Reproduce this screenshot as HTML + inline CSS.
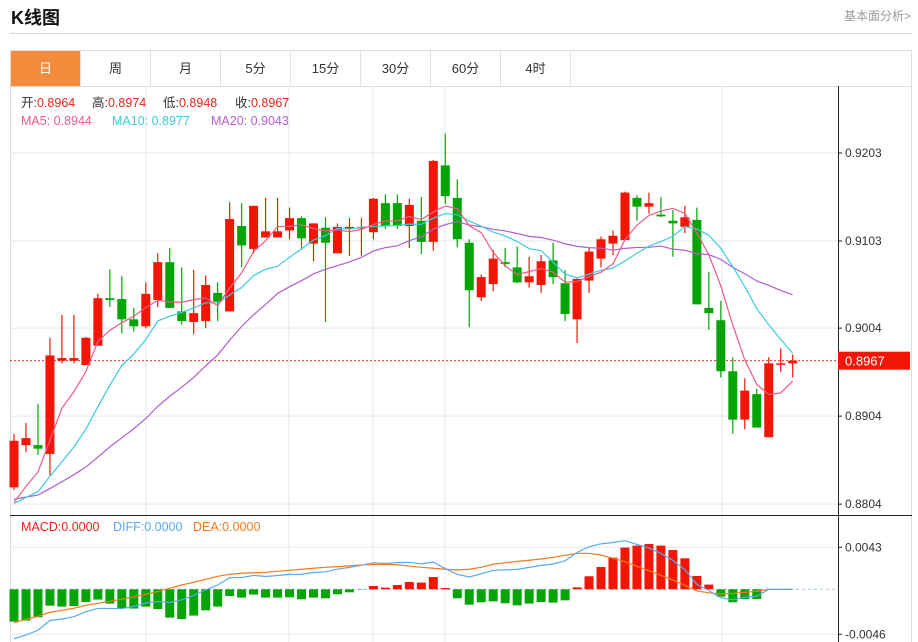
<!DOCTYPE html>
<html><head><meta charset="utf-8"><style>
body{margin:0;width:918px;height:642px;overflow:hidden;background:#fff;font-family:"Liberation Sans","Noto Sans CJK SC",sans-serif;position:relative}
.title{position:absolute;left:11px;top:4px;font-size:18px;font-weight:bold;color:#111}
.more{position:absolute;right:7px;top:7px;font-size:12px;color:#999}
.hr{position:absolute;left:10px;top:33px;width:902px;height:1px;background:#d4d4d4}
.tabs{position:absolute;left:10px;top:50px;width:900px;height:35px;border:1px solid #ddd;display:flex}
.tab{width:69px;border-right:1px solid #e2e2e2;font-size:13px;color:#333;text-align:center;line-height:35px}
.tab.on{background:#f28c3c;color:#fff}
svg{position:absolute;left:0;top:0}
</style></head><body>
<div class="title">K线图</div>
<div class="more">基本面分析&gt;</div>
<div class="hr"></div>
<div class="tabs">
<div class="tab on">日</div>
<div class="tab">周</div>
<div class="tab">月</div>
<div class="tab">5分</div>
<div class="tab">15分</div>
<div class="tab">30分</div>
<div class="tab">60分</div>
<div class="tab">4时</div>
</div>
<svg id="c" width="918" height="642"></svg>
<script>
const opens=[0.8823,0.8871,0.8871,0.8861,0.8967,0.8967,0.8962,0.8984,0.9038,0.9037,0.9014,0.9006,0.9036,0.9079,0.9023,0.9011,0.9012,0.9044,0.9023,0.9120,0.9094,0.9107,0.9107,0.9115,0.9129,0.9100,0.9118,0.9089,0.9118,0.9118,0.9113,0.9146,0.9146,0.9120,0.9126,0.9102,0.9189,0.9152,0.9101,0.9039,0.9054,0.9079,0.9073,0.9056,0.9053,0.9081,0.9055,0.9014,0.9058,0.9083,0.9100,0.9104,0.9152,0.9142,0.9133,0.9126,0.9119,0.9127,0.9027,0.9013,0.8955,0.8900,0.8929,0.8880,0.8963,0.8964];
const highs=[0.8884,0.8896,0.8918,0.8993,0.9019,0.9019,0.8994,0.9043,0.9071,0.9063,0.9027,0.9056,0.9089,0.9095,0.9073,0.9070,0.9064,0.9056,0.9147,0.9146,0.9143,0.9152,0.9152,0.9141,0.9131,0.9123,0.9130,0.9123,0.9129,0.9129,0.9152,0.9156,0.9156,0.9151,0.9153,0.9195,0.9225,0.9173,0.9105,0.9065,0.9093,0.9095,0.9097,0.9085,0.9087,0.9101,0.9070,0.9060,0.9096,0.9108,0.9115,0.9159,0.9155,0.9158,0.9153,0.9138,0.9143,0.9141,0.9068,0.9035,0.8971,0.8947,0.8935,0.8971,0.8981,0.8974];
const lows=[0.8820,0.8863,0.8860,0.8837,0.8964,0.8964,0.8962,0.8984,0.9028,0.8998,0.9000,0.9004,0.9028,0.9027,0.9008,0.8997,0.9004,0.9012,0.9023,0.9073,0.9089,0.9107,0.9107,0.9105,0.9093,0.9080,0.9011,0.9089,0.9086,0.9086,0.9105,0.9117,0.9117,0.9095,0.9088,0.9092,0.9145,0.9096,0.9005,0.9035,0.9046,0.9073,0.9055,0.9050,0.9044,0.9054,0.9012,0.8987,0.9044,0.9073,0.9087,0.9104,0.9126,0.9134,0.9130,0.9085,0.9112,0.9031,0.9002,0.8948,0.8884,0.8889,0.8891,0.8880,0.8954,0.8948];
const closes=[0.8876,0.8879,0.8867,0.8973,0.8970,0.8970,0.8993,0.9038,0.9036,0.9014,0.9006,0.9043,0.9079,0.9027,0.9012,0.9021,0.9053,0.9034,0.9128,0.9098,0.9143,0.9114,0.9114,0.9129,0.9106,0.9123,0.9101,0.9119,0.9119,0.9119,0.9151,0.9120,0.9120,0.9144,0.9102,0.9194,0.9154,0.9105,0.9047,0.9062,0.9083,0.9077,0.9056,0.9063,0.9080,0.9062,0.9020,0.9060,0.9091,0.9105,0.9109,0.9158,0.9142,0.9146,0.9131,0.9123,0.9130,0.9031,0.9021,0.8955,0.8900,0.8933,0.8891,0.8964,0.8964,0.8967];
const prevCloses=[0.8830,0.8820,0.8825,0.8815,0.8810,0.8818,0.8812,0.8805,0.8808,0.8800,0.8810,0.8802,0.8798,0.8806,0.8800,0.8790,0.8785,0.8792,0.8788];
const priceTicks=[0.9203,0.9103,0.9004,0.8904,0.8804];
const macdHist=[-33,-32,-28.6,-16.7,-17.7,-17.1,-13,-10.5,-14.6,-19.1,-19.7,-17.7,-20.2,-29,-30.4,-26.9,-21.5,-17.7,-6.9,-8.5,-5.4,-8.5,-8.5,-8.2,-10.2,-8.5,-9.2,-5.1,-3.1,-0.3,3.4,1.7,4.4,7.5,6.9,12.6,1.3,-9.2,-15.7,-13.3,-12.3,-14.3,-16.4,-14.6,-13,-13.6,-11.3,2,13.3,22.8,32.4,42.7,44.7,46.3,44.7,40.2,31.7,13.6,4.8,-7.5,-13.3,-9.9,-9.9,0,0,0];
const deaVals=[-34.2,-30.7,-27.6,-23.5,-21.5,-19.4,-16.4,-14.3,-12.3,-10.2,-7.7,-5.1,-2.4,1,4.4,7.2,10.2,13.3,15.3,16.4,16.9,17.4,18.4,19.4,20.5,21.5,22.5,23.2,24,24.9,25.3,25.6,25.1,23.8,22.5,21.5,20.5,19.9,20.5,22.5,25.6,27.1,28.6,29.7,31,32.7,34.8,36.8,36.8,35.1,31.7,28.3,23.5,19.1,14.3,9.5,4.1,-1.7,-3.6,-4.8,-4.1,-3.1,-2,0,0,0];
const diffVals=[-50.7,-46.7,-41.9,-31.9,-30.4,-28,-22.9,-19.6,-19.6,-19.8,-17.6,-14,-12.5,-13.5,-10.8,-6.3,-0.6,4.4,11.8,12.1,14.2,13.1,14.1,15.3,15.4,17.2,17.9,20.6,22.4,24.7,27,26.5,27.3,27.6,26,27.8,21.2,15.3,12.6,15.8,19.4,19.9,20.4,22.4,24.5,25.9,29.1,37.8,43.5,46.5,47.9,49.7,45.9,42.3,36.7,29.6,20,5.1,-1.2,-8.6,-10.8,-8.1,-7,0,0,0];
const macdTicks=[0.0043,-0.0046];

const svg=document.getElementById('c');const NS='http://www.w3.org/2000/svg';
function mk(t,a,p){const e=document.createElementNS(NS,t);for(const k in a)e.setAttribute(k,a[k]);(p||svg).appendChild(e);return e;}
const xAt=i=>14+11.98*i;
const yP=p=>153+(0.9203-p)*8800;
const yM=v=>589.3-v*1e-4*9775;
let g=mk('g',{});


mk('rect',{x:10.5,y:86.5,width:901,height:556,fill:'none',stroke:'#ddd'},g);
[146,289,373,445,722].forEach(x=>mk('line',{x1:x,x2:x,y1:87,y2:642,stroke:'#e3e8ee'},g));
priceTicks.forEach(p=>mk('line',{x1:10,x2:838,y1:yP(p),y2:yP(p),stroke:'#e3e8ee'},g));
macdTicks.forEach(v=>mk('line',{x1:10,x2:838,y1:yM(v*1e4),y2:yM(v*1e4),stroke:'#e3e8ee'},g));
mk('line',{x1:838.5,x2:838.5,y1:86,y2:642,stroke:'#222'},g);
mk('line',{x1:10,x2:912,y1:515.5,y2:515.5,stroke:'#222'},g);
priceTicks.forEach(p=>{const y=yP(p);mk('line',{x1:838,x2:842,y1:y,y2:y,stroke:'#222'});
const t=mk('text',{x:845,y:y+4,'font-size':12,fill:'#333'});t.textContent=p.toFixed(4);

});
macdTicks.forEach(v=>{const y=yM(v*1e4);mk('line',{x1:838,x2:842,y1:y,y2:y,stroke:'#222'});
const t=mk('text',{x:845,y:y+4,'font-size':12,fill:'#333'});t.textContent=v.toFixed(4);

});
const last=closes[closes.length-1];
mk('line',{x1:10,x2:838,y1:yP(last),y2:yP(last),stroke:'#e33',"stroke-dasharray":'2,2'});
closes.forEach((c,i)=>{const o=opens[i],up=c>=o,col=up?'#f21606':'#06a406',x=xAt(i);
const cg=mk('g',{});


mk('line',{x1:x,x2:x,y1:yP(highs[i]),y2:yP(lows[i]),stroke:col,'stroke-width':1.2},cg);
const top=yP(Math.max(o,c)),h=Math.max(1.5,Math.abs(yP(o)-yP(c)));
mk('rect',{x:x-4.5,y:top,width:9,height:h,fill:col},cg);});
const all=prevCloses.concat(closes);
function ma(n,col,name){const pts=closes.map((c,i)=>{const j=i+prevCloses.length;let s=0;for(let k=j-n+1;k<=j;k++)s+=all[k];return xAt(i)+','+yP(s/n);});
const l=mk('polyline',{points:pts.join(' '),fill:'none',stroke:col,'stroke-width':1.2});

}
ma(20,'#b35ed0','ma20-line');ma(10,'#3ec9e2','ma10-line');ma(5,'#f05a86','ma5-line');
const tg=mk('rect',{x:838,y:yP(last)-9,width:72,height:18,fill:'#f21606'});


let tt=mk('text',{x:845,y:yP(last)+5,'font-size':13,fill:'#fff'});tt.textContent=last.toFixed(4);
mk('line',{x1:10,x2:838,y1:yM(0),y2:yM(0),stroke:'#9cc8e0','stroke-dasharray':'3,3'});
macdHist.forEach((v,i)=>{if(!v)return;const x=xAt(i),y0=yM(0),y1=yM(v);
const b=mk('rect',{x:x-4.5,y:Math.min(y0,y1),width:9,height:Math.abs(y1-y0),fill:v>0?'#f21606':'#06a406'});

});
function line(arr,col,name){const l=mk('polyline',{points:arr.map((v,i)=>xAt(i)+','+yM(v)).join(' '),fill:'none',stroke:col,'stroke-width':1.2});

}
line(deaVals,'#f5791c','dea-line');line(diffVals,'#5aaaf0','diff-line');
function txt(x,y,s,col,name){const t=mk('text',{x:x,y:y,'font-size':12.5,fill:col,'font-family':'Liberation Sans,Noto Sans CJK SC,sans-serif'});t.innerHTML=s;

}
const R='#f0201a';
txt(21,107,'<tspan fill="#333">开:</tspan>0.8964','#f0201a','legend-open');
txt(92,107,'<tspan fill="#333">高:</tspan>0.8974',R,'legend-high');
txt(163,107,'<tspan fill="#333">低:</tspan>0.8948',R,'legend-low');
txt(235,107,'<tspan fill="#333">收:</tspan>0.8967',R,'legend-close');
txt(21,125,'MA5: 0.8944','#f05a86','legend-ma5');
txt(112,125,'MA10: 0.8977','#3ec9e2','legend-ma10');
txt(211,125,'MA20: 0.9043','#b35ed0','legend-ma20');
txt(21,531,'MACD:0.0000','#f0201a','legend-macd');
txt(113,531,'DIFF:0.0000','#5aaaf0','legend-diff');
txt(193,531,'DEA:0.0000','#f5791c','legend-dea');
</script>
</body></html>
